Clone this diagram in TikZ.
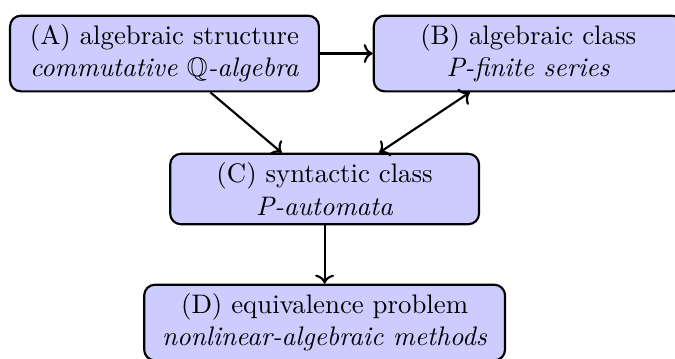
\documentclass[tikz,border=0pt]{standalone}
\usepackage{amsmath,amssymb}
\usepackage{tikz}
\usetikzlibrary{arrows.meta,positioning}

\begin{document}
\begin{tikzpicture}[
  stage/.style={draw,thick,fill=blue!20,rounded corners,minimum width=4.05cm,inner xsep=6.7pt,align=center},
  arr/.style={->,thick}
]
\useasboundingbox (-2.157,0.702) rectangle (6.695,-4.006);
\node[stage] (struct) at (0,0) {(A) algebraic structure\\\textit{commutative $\mathbb{Q}$-algebra}};
\node[stage] (alg) at (4.77,0) {(B) algebraic class\\\textit{P-finite series}};
\node[stage] (syn) at (2.1,-1.777) {(C) syntactic class\\\textit{P-automata}};
\node[stage] (equiv) at (2.1,-3.528) {(D) equivalence problem\\\textit{nonlinear-algebraic methods}};

\draw[arr] (struct) -- (alg);
\draw[arr] (struct) -- (syn);
\draw[arr,<->] (alg) -- (syn);
\draw[arr] (syn) -- (equiv);
\end{tikzpicture}
\end{document}
